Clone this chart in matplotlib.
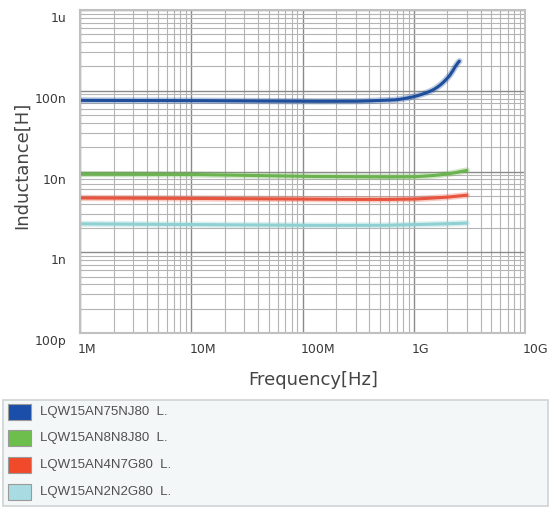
import matplotlib
matplotlib.use("Agg")
import matplotlib.pyplot as plt
import matplotlib.transforms as mtransforms
from matplotlib.patches import Rectangle
import numpy as np

# frequency points [Hz] and inductance [H]
freq_75n = [1e6, 1e7, 1e8, 3e8, 7e8, 1e9, 1.3e9, 1.6e9, 2.0e9, 2.3e9, 2.57e9]
ind_75n = [76e-9, 75.5e-9, 74e-9, 74e-9, 77e-9, 84e-9, 94e-9, 107e-9, 140e-9, 181e-9, 254e-9]

freq_8n8 = [1e6, 1e7, 1e8, 5e8, 1e9, 1.5e9, 2e9, 2.5e9, 3.0e9]
ind_8n8 = [9.3e-9, 9.2e-9, 8.7e-9, 8.55e-9, 8.6e-9, 8.9e-9, 9.3e-9, 9.8e-9, 10.4e-9]

freq_4n7 = [1e6, 1e7, 1e8, 5e8, 1e9, 2e9, 3.0e9]
ind_4n7 = [4.7e-9, 4.65e-9, 4.55e-9, 4.5e-9, 4.55e-9, 4.8e-9, 5.1e-9]

freq_2n2 = [1e6, 1e7, 1e8, 5e8, 1e9, 2e9, 3.0e9]
ind_2n2 = [2.25e-9, 2.2e-9, 2.15e-9, 2.15e-9, 2.2e-9, 2.25e-9, 2.3e-9]

series_names = ["LQW15AN75NJ80  L.", "LQW15AN8N8J80  L.", "LQW15AN4N7G80  L.", "LQW15AN2N2G80  L."]
line_colors = ["#1f4f9c", "#6bb34e", "#e8553e", "#8fd0d2"]
patch_colors = ["#1a4ea8", "#6cbf4a", "#f04a2a", "#a8dce2"]

x_ticks = [1e6, 1e7, 1e8, 1e9, 1e10]
x_labels = ["1M", "10M", "100M", "1G", "10G"]
y_ticks = [1e-10, 1e-9, 1e-8, 1e-7, 1e-6]
y_labels = ["100p", "1n", "10n", "100n", "1u"]

fig = plt.figure(figsize=(5.5, 5.08), dpi=100)
ax = fig.add_axes([0.1455, 0.3445, 0.809, 0.6358])
ax.set_xscale("log")
ax.set_yscale("log")
ax.set_xlim(1e6, 1e10)
ax.set_ylim(1e-10, 1e-6)

ax.grid(which="major", color="#8a8a8a", linewidth=1.0)
ax.grid(which="minor", color="#b4b4b4", linewidth=0.8)
ax.set_axisbelow(True)
for s in ax.spines.values():
    s.set_color("#c0c0c0")
    s.set_linewidth(1.5)

data = [(freq_75n, ind_75n), (freq_8n8, ind_8n8), (freq_4n7, ind_4n7), (freq_2n2, ind_2n2)]
for (f, l), c in zip(data, line_colors):
    # smooth in log-log space
    lf = np.log10(f)
    ll = np.log10(l)
    xs = np.linspace(lf[0], lf[-1], 300)
    ys = np.interp(xs, lf, ll)
    k = np.ones(9) / 9
    ys_s = np.convolve(np.pad(ys, 4, mode="edge"), k, mode="valid")
    ax.plot(10 ** xs, 10 ** ys_s, color=c, linewidth=4.5, alpha=0.3, solid_capstyle="round")
    ax.plot(10 ** xs, 10 ** ys_s, color=c, linewidth=2.2, solid_capstyle="round")

ax.set_xticks(x_ticks)
ax.set_xticklabels(x_labels)
ax.set_yticks(y_ticks)
ax.set_yticklabels(y_labels)
ax.tick_params(which="both", length=0, labelsize=9, colors="#3a3a3a", labelcolor="#3a3a3a")
ax.tick_params(axis="x", pad=7)
ax.tick_params(axis="y", pad=10)
for lab in ax.get_xticklabels():
    lab.set_horizontalalignment("left")
    lab.set_transform(lab.get_transform() + mtransforms.ScaledTranslation(-2 / 100, 0, fig.dpi_scale_trans))
for lab in ax.get_yticklabels():
    lab.set_transform(lab.get_transform() + mtransforms.ScaledTranslation(0, -7 / 100, fig.dpi_scale_trans))

fig.text(313 / 550, 1 - 380 / 508, "Frequency[Hz]", ha="center", va="center", fontsize=13, color="#444444")
fig.text(22 / 550, 1 - 165 / 508, "Inductance[H]", ha="center", va="center", rotation=90, fontsize=13, color="#444444")

# legend panel
fig.patches.append(Rectangle((3 / 550, 1 - 506 / 508), 545 / 550, 106 / 508, transform=fig.transFigure,
                             facecolor="#f4f7f7", edgecolor="#cfd3d3", linewidth=1.2))
row_y = [412, 438, 465, 492]
for name, c, yy in zip(series_names, patch_colors, row_y):
    fig.patches.append(Rectangle((8 / 550, 1 - (yy + 8) / 508), 23 / 550, 16 / 508, transform=fig.transFigure,
                                 facecolor=c, edgecolor="#9a9a9a", linewidth=0.8))
    fig.text(40 / 550, 1 - yy / 508, name, ha="left", va="center", fontsize=9.5,
             family="Liberation Sans", color="#505050")

fig.savefig("out.png", dpi=100, facecolor="white")
